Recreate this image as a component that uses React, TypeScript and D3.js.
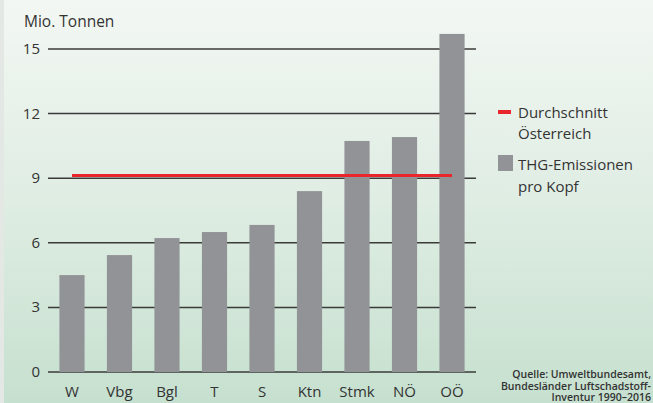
import React from "react";
import * as d3 from "d3";

const categories = ["W", "Vbg", "Bgl", "T", "S", "Ktn", "Stmk", "NÖ", "OÖ"];
const emissions = [4.5, 5.43, 6.22, 6.5, 6.83, 8.4, 10.73, 10.91, 15.7];
const average = 9.12;
const yTicks = [0, 3, 6, 9, 12, 15];
const legendLabels = [["Durchschnitt", "Österreich"], ["THG-Emissionen", "pro Kopf"]];
const sourceLines = ["Quelle: Umweltbundesamt,", "Bundesländer Luftschadstoff-", "Inventur 1990–2016"];
const yTitle = "Mio. Tonnen";

const W = 653, H = 403;
const FONT = "'Open Sans', 'Noto Sans', sans-serif";

export default function App() {
  const x = d3.scaleBand<string>().domain(categories).range([48, 476]).paddingInner(0.47).paddingOuter(0.24);
  const y = d3.scaleLinear().domain([0, 15]).range([372, 49]);
  const bw = x.bandwidth();
  const first = (x(categories[0]) ?? 0) + bw / 2;
  const last = (x(categories[categories.length - 1]) ?? 0) + bw / 2;
  return (
    <svg width={W} height={H} style={{ position: "absolute", left: 0, top: 0, display: "block" }} fontFamily={FONT}>
      <defs>
        <linearGradient id="bg" x1="0" y1="0" x2="0" y2="1">
          <stop offset="0" stopColor="#f3f7f3" />
          <stop offset="0.5" stopColor="#dfede3" />
          <stop offset="1" stopColor="#c6e0cf" />
        </linearGradient>
      </defs>
      <rect x={0} y={0} width={W} height={H} fill="url(#bg)" />
      <rect x={0} y={0} width={4} height={H} fill="#e4e8e5" />
      <text x={24} y={27} fontSize={15.5} fill="#333">{yTitle}</text>
      {yTicks.map((t) => (
        <g key={t}>
          <line x1={48} x2={476} y1={y(t)} y2={y(t)} stroke="#3a3a3a" strokeWidth={1.5} />
          <text x={40} y={y(t) + 5} fontSize={15} fill="#333" textAnchor="end">{t}</text>
        </g>
      ))}
      {categories.map((c, i) => (
        <g key={c}>
          <rect x={x(c)} y={y(emissions[i])} width={bw} height={y(0) - y(emissions[i])} fill="#929397" />
          <text x={(x(c) ?? 0) + bw / 2} y={397} fontSize={15} fill="#333" textAnchor="middle">{c}</text>
        </g>
      ))}
      <line x1={first} x2={last} y1={y(average)} y2={y(average)} stroke="#e8262c" strokeWidth={3} />
      <rect x={498} y={110} width={13} height={4} fill="#e8262c" />
      <text x={518} y={118} fontSize={15} fill="#333">{legendLabels[0][0]}</text>
      <text x={518} y={139} fontSize={15} fill="#333">{legendLabels[0][1]}</text>
      <rect x={498} y={155} width={15} height={16} fill="#929397" />
      <text x={518} y={170} fontSize={15} fill="#333">{legendLabels[1][0]}</text>
      <text x={518} y={192} fontSize={15} fill="#333">{legendLabels[1][1]}</text>
      {sourceLines.map((s, i) => (
        <text key={i} x={651} y={378 + i * 11.5} fontSize={10.5} fontWeight={600} fill="#333" textAnchor="end">{s}</text>
      ))}
    </svg>
  );
}
